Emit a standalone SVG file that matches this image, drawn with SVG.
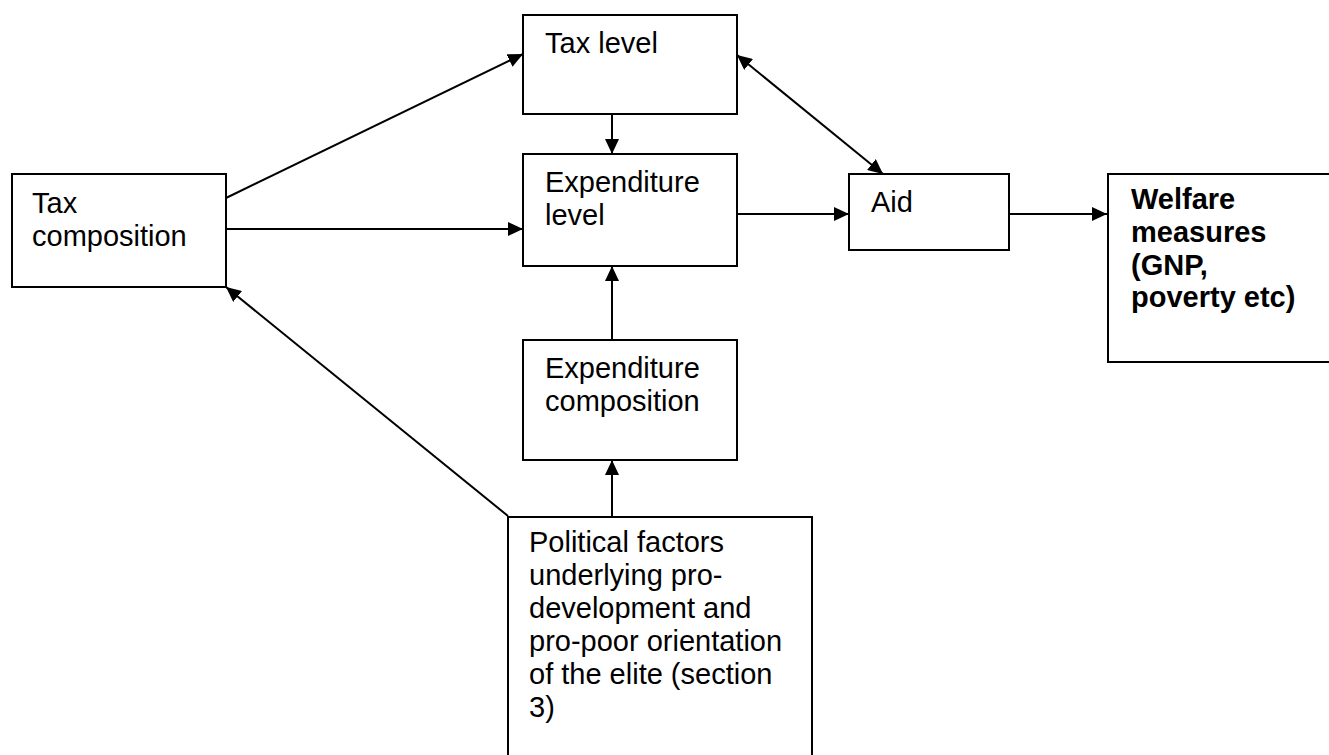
<svg xmlns="http://www.w3.org/2000/svg" width="1329" height="755" viewBox="0 0 1329 755">
<style>
.box{fill:#fff;stroke:#000;stroke-width:2}
.t{font-family:"Liberation Sans",Arial,sans-serif;font-size:29px;fill:#000}
.b{font-weight:bold}
.c{stroke:#000;stroke-width:2;fill:none}
</style>
<defs>
<marker id="ah" markerUnits="userSpaceOnUse" markerWidth="15" markerHeight="14" refX="15" refY="7" orient="auto-start-reverse" viewBox="0 0 15 14">
<path d="M0,0 L15,7 L0,14 z" fill="#000"/>
</marker>
</defs>
<rect width="1329" height="755" fill="#fff"/>
<g id="connectors">
<line class="c" x1="226" y1="198" x2="523" y2="54" marker-end="url(#ah)"/>
<line class="c" x1="226" y1="229" x2="523" y2="229" marker-end="url(#ah)"/>
<line class="c" x1="508" y1="516" x2="226" y2="287" marker-end="url(#ah)"/>
<line class="c" x1="612" y1="114" x2="612" y2="154" marker-end="url(#ah)"/>
<line class="c" x1="612" y1="340" x2="612" y2="266" marker-end="url(#ah)"/>
<line class="c" x1="612" y1="517" x2="612" y2="460" marker-end="url(#ah)"/>
<line class="c" x1="737" y1="55" x2="883" y2="174" marker-start="url(#ah)" marker-end="url(#ah)"/>
<line class="c" x1="737" y1="214" x2="849" y2="214" marker-end="url(#ah)"/>
<line class="c" x1="1009" y1="214" x2="1107" y2="214" marker-end="url(#ah)"/>
</g>
<g id="tax-composition">
<rect class="box" x="12" y="174" width="214" height="113"/>
<text class="t" x="32" y="213">Tax</text>
<text class="t" x="32" y="246">composition</text>
</g>
<g id="tax-level">
<rect class="box" x="523" y="15" width="214" height="99"/>
<text class="t" x="545" y="53">Tax level</text>
</g>
<g id="expenditure-level">
<rect class="box" x="523" y="154" width="214" height="112"/>
<text class="t" x="545" y="192">Expenditure</text>
<text class="t" x="545" y="225">level</text>
</g>
<g id="aid">
<rect class="box" x="849" y="174" width="160" height="76"/>
<text class="t" x="871" y="212">Aid</text>
</g>
<g id="welfare">
<rect class="box" x="1108" y="174" width="230" height="188"/>
<text class="t b" x="1131" y="209">Welfare</text>
<text class="t b" x="1131" y="242">measures</text>
<text class="t b" x="1131" y="275">(GNP,</text>
<text class="t b" x="1131" y="307">poverty etc)</text>
</g>
<g id="expenditure-composition">
<rect class="box" x="523" y="340" width="214" height="120"/>
<text class="t" x="545" y="378">Expenditure</text>
<text class="t" x="545" y="411">composition</text>
</g>
<g id="political-factors">
<rect class="box" x="508" y="517" width="304" height="250"/>
<text class="t" x="529" y="552">Political factors</text>
<text class="t" x="529" y="585">underlying pro-</text>
<text class="t" x="529" y="618">development and</text>
<text class="t" x="529" y="651">pro-poor orientation</text>
<text class="t" x="529" y="684">of the elite (section</text>
<text class="t" x="529" y="717">3)</text>
</g>
</svg>
